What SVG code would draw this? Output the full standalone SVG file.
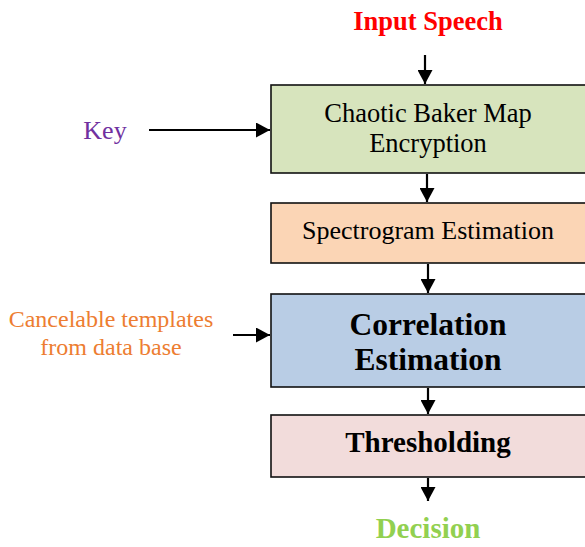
<svg xmlns="http://www.w3.org/2000/svg" width="585" height="547" viewBox="0 0 585 547" font-family="'Liberation Serif', 'Times New Roman', serif">
<style>
.box{stroke:#111;stroke-width:1.6}
text{font-family:'Liberation Serif','Times New Roman',serif;text-anchor:middle;fill:#000}
.b{font-weight:bold}
.c line{stroke:#000;stroke-width:2.2}
</style>
<defs>
<marker id="ah" markerWidth="14" markerHeight="15" refX="14" refY="7.5" orient="auto" markerUnits="userSpaceOnUse" viewBox="0 0 14 15">
<path d="M0,0 L14,7.5 L0,15 Z" fill="#000"/>
</marker>
</defs>
<rect width="585" height="547" fill="#fff"/>
<text class="b" x="428" y="30" font-size="26.5" style="fill:#FF0000">Input Speech</text>
<text x="105" y="139" font-size="26" style="fill:#7030A0">Key</text>
<text x="111" y="327" font-size="24" style="fill:#ED7D31">Cancelable templates</text>
<text x="111" y="355" font-size="24" style="fill:#ED7D31">from data base</text>
<g id="n1"><rect class="box" x="271" y="85" width="320" height="88" fill="#D7E4BD"/>
<text x="428" y="122" font-size="26.5">Chaotic Baker Map</text>
<text x="428" y="152" font-size="26.5">Encryption</text></g>
<g id="n2"><rect class="box" x="271" y="203" width="320" height="60" fill="#FBD5B5"/>
<text x="428" y="239" font-size="26">Spectrogram Estimation</text></g>
<g id="n3"><rect class="box" x="271" y="294" width="320" height="93" fill="#B9CDE5"/>
<text class="b" x="428" y="335" font-size="31.5">Correlation</text>
<text class="b" x="428" y="370" font-size="31.5">Estimation</text></g>
<g id="n4"><rect class="box" x="271" y="415" width="320" height="62" fill="#F2DCDB"/>
<text class="b" x="428" y="452" font-size="29">Thresholding</text></g>
<text class="b" x="428" y="538" font-size="29" style="fill:#92D050">Decision</text>
<g class="c">
<line x1="425" y1="55" x2="425" y2="84" marker-end="url(#ah)"/>
<line x1="427" y1="174" x2="427" y2="202" marker-end="url(#ah)"/>
<line x1="428" y1="264" x2="428" y2="293" marker-end="url(#ah)"/>
<line x1="428" y1="388" x2="428" y2="414" marker-end="url(#ah)"/>
<line x1="428" y1="478" x2="428" y2="501" marker-end="url(#ah)"/>
<line x1="149" y1="130" x2="270" y2="130" marker-end="url(#ah)"/>
<line x1="233" y1="335" x2="270" y2="335" marker-end="url(#ah)"/>
</g>
</svg>
